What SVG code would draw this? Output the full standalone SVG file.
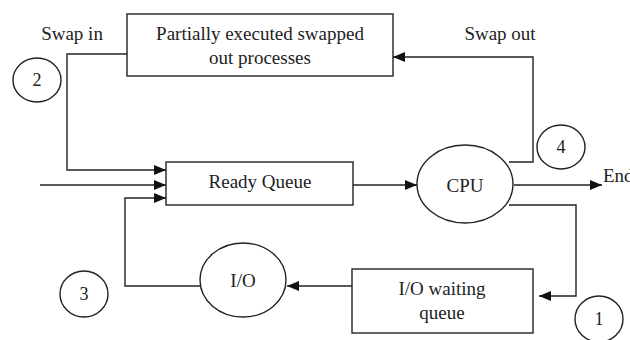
<svg xmlns="http://www.w3.org/2000/svg" width="630" height="340" viewBox="0 0 630 340">
  <style>
    .box { fill: #fff; stroke: #222; stroke-width: 1.4; }
    .line { fill: none; stroke: #222; stroke-width: 1.4; }
    .lbl { font-family: "Liberation Serif", "Times New Roman", serif; font-size: 19px; fill: #222; text-anchor: middle; }
    .num { font-size: 18px; }
  </style>
  <defs>
    <marker id="arrow" viewBox="0 0 12 10" refX="12" refY="5" markerWidth="12" markerHeight="10" markerUnits="userSpaceOnUse" orient="auto">
      <path d="M0,0 L12,5 L0,10 Z" fill="#111"/>
    </marker>
  </defs>
  <rect width="630" height="340" fill="#fff"/>

  <g id="connectors">
    <!-- swap in: swapped-out box back to ready queue -->
    <polyline class="line" points="127,54 67,54 67,170 166,170" marker-end="url(#arrow)"/>
    <!-- new arrivals -->
    <line class="line" x1="40" y1="185" x2="166" y2="185" marker-end="url(#arrow)"/>
    <!-- I/O completion back to ready queue -->
    <polyline class="line" points="200,286 125,286 125,198 166,198" marker-end="url(#arrow)"/>
    <!-- ready queue to CPU -->
    <line class="line" x1="353" y1="185" x2="417" y2="185" marker-end="url(#arrow)"/>
    <!-- CPU to end -->
    <line class="line" x1="514" y1="185" x2="602" y2="185" marker-end="url(#arrow)"/>
    <!-- CPU to I/O waiting queue -->
    <polyline class="line" points="509,205 576,205 576,296 539,296" marker-end="url(#arrow)"/>
    <!-- I/O waiting queue to I/O -->
    <line class="line" x1="352" y1="286" x2="287" y2="286" marker-end="url(#arrow)"/>
    <!-- swap out: CPU to swapped-out box -->
    <polyline class="line" points="509,162 533,162 533,57 393,57" marker-end="url(#arrow)"/>
  </g>

  <g id="swapped-out">
    <rect class="box" x="127" y="14" width="266" height="62"/>
    <text class="lbl" x="260" y="40">Partially executed swapped</text>
    <text class="lbl" x="260" y="64">out processes</text>
  </g>

  <g id="ready-queue">
    <rect class="box" x="166" y="162" width="187" height="43"/>
    <text class="lbl" x="260" y="188">Ready Queue</text>
  </g>

  <g id="cpu">
    <ellipse class="box" cx="465" cy="184" rx="48" ry="39"/>
    <text class="lbl" x="465" y="192">CPU</text>
  </g>

  <g id="io">
    <ellipse class="box" cx="243" cy="280" rx="43" ry="37"/>
    <text class="lbl" x="243" y="287">I/O</text>
  </g>

  <g id="io-waiting">
    <rect class="box" x="352" y="269" width="181" height="64"/>
    <text class="lbl" x="442" y="295">I/O waiting</text>
    <text class="lbl" x="442" y="319">queue</text>
  </g>

  <g id="labels">
    <text class="lbl" x="72" y="40">Swap in</text>
    <text class="lbl" x="500" y="40">Swap out</text>
    <text class="lbl" x="603" y="182" style="text-anchor:start">End</text>
  </g>

  <g id="step-2">
    <ellipse class="box" cx="37" cy="80" rx="24" ry="22"/>
    <text class="lbl num" x="37" y="86">2</text>
  </g>
  <g id="step-4">
    <ellipse class="box" cx="561" cy="147" rx="24" ry="22"/>
    <text class="lbl num" x="561" y="153">4</text>
  </g>
  <g id="step-3">
    <ellipse class="box" cx="84" cy="294" rx="24" ry="23"/>
    <text class="lbl num" x="84" y="300">3</text>
  </g>
  <g id="step-1">
    <ellipse class="box" cx="599" cy="319" rx="24" ry="23"/>
    <text class="lbl num" x="599" y="325">1</text>
  </g>
</svg>
